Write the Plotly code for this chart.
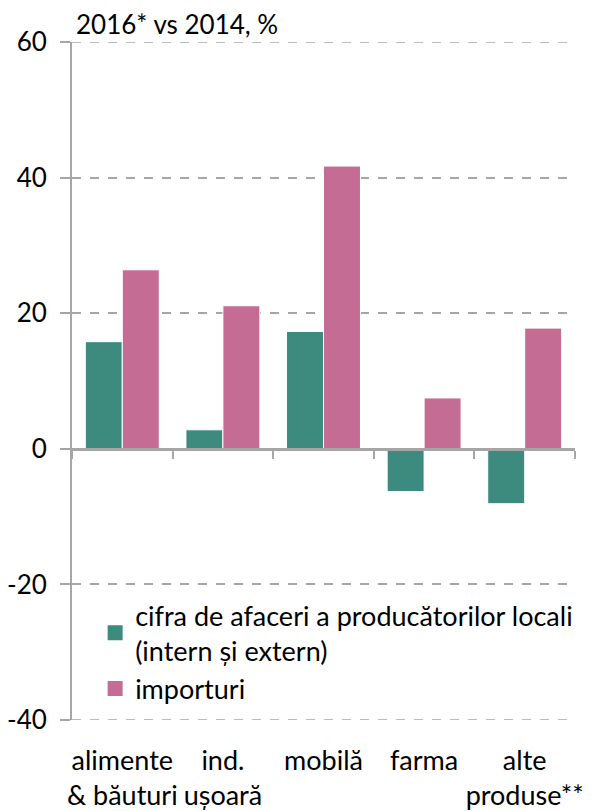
import plotly.graph_objects as go

categories = ["alimente<br>& băuturi", "ind.<br>ușoară", "mobilă", "farma", "alte<br>produse**"]
local_producers = [15.8, 2.8, 17.3, -6.3, -8.1]
imports = [26.4, 21.1, 41.7, 7.5, 17.8]
y_ticks = [-40, -20, 0, 20, 40, 60]
y_tick_text = ["-40", "-20", "0", "20", "40", "60"]
boundaries = [-0.5, 0.5, 1.5, 2.5, 3.5, 4.5]
series_names = ["cifra de afaceri a producătorilor locali<br>(intern și extern)", "importuri"]
series_colors = ["#3D8A7E", "#C56C94"]

FONT = "Lato, Carlito, Calibri, sans-serif"
GRAY = "#A6A6A6"
FS = 26

fig = go.Figure()
for vals, name, col in zip([local_producers, imports], series_names, series_colors):
    fig.add_trace(go.Bar(
        x=categories, y=vals, name=name, showlegend=False,
        marker=dict(color=col, line=dict(color="white", width=1)),
    ))
for name, col in zip(series_names, series_colors):
    fig.add_trace(go.Scatter(
        x=[None], y=[None], mode="markers", name=name,
        marker=dict(symbol="square", size=15, color=col),
    ))
# invisible trace for the axis at zero
fig.add_trace(go.Scatter(x=[boundaries[0], boundaries[-1]], y=[0, 0], xaxis="x2",
                         mode="lines", line=dict(width=0), showlegend=False, hoverinfo="skip"))

# edge gridlines (plotly omits gridlines at range ends)
for yv in (y_ticks[0], y_ticks[-1]):
    fig.add_shape(type="line", xref="paper", yref="y", x0=0, x1=1, y0=yv, y1=yv,
                  line=dict(color=GRAY, width=1.5, dash="dash"), layer="below")

fig.update_layout(
    width=605, height=803,
    margin=dict(l=64, r=38, t=34, b=91),
    paper_bgcolor="white", plot_bgcolor="white",
    barmode="group", bargap=0.265, bargroupgap=0,
    font=dict(family=FONT, size=FS, color="black"),
    showlegend=True,
    legend=dict(x=0.046, y=0.19, xanchor="left", yanchor="top",
                bgcolor="rgba(0,0,0,0)", font=dict(size=27),
                tracegroupgap=0, itemwidth=30),
    xaxis=dict(showline=False, ticks="", showgrid=False, zeroline=False,
               tickfont=dict(size=27), ticklabelstandoff=22, automargin=False),
    xaxis2=dict(overlaying="x", anchor="free", position=0.4, range=[-0.5, 4.5],
                showline=True, linecolor=GRAY, linewidth=2.5,
                tickvals=boundaries, ticks="outside", ticklen=8, tickcolor=GRAY, tickwidth=1.5,
                showticklabels=False, showgrid=False, zeroline=False, automargin=False),
    yaxis=dict(range=[-40, 60], tickvals=y_ticks, ticktext=y_tick_text,
               showgrid=True, gridcolor=GRAY,
               griddash="dash", gridwidth=1.5, zeroline=False,
               showline=True, linecolor=GRAY, linewidth=2,
               ticks="outside", ticklen=10, tickcolor=GRAY, tickwidth=1.5,
               tickfont=dict(size=FS), ticklabelstandoff=8, automargin=False),
    annotations=[dict(text="2016* vs 2014, %", xref="paper", yref="paper",
                      x=0, y=1, xanchor="left", yanchor="bottom", xshift=2, yshift=0,
                      showarrow=False, font=dict(size=FS))],
)

fig.write_html("out.html")
